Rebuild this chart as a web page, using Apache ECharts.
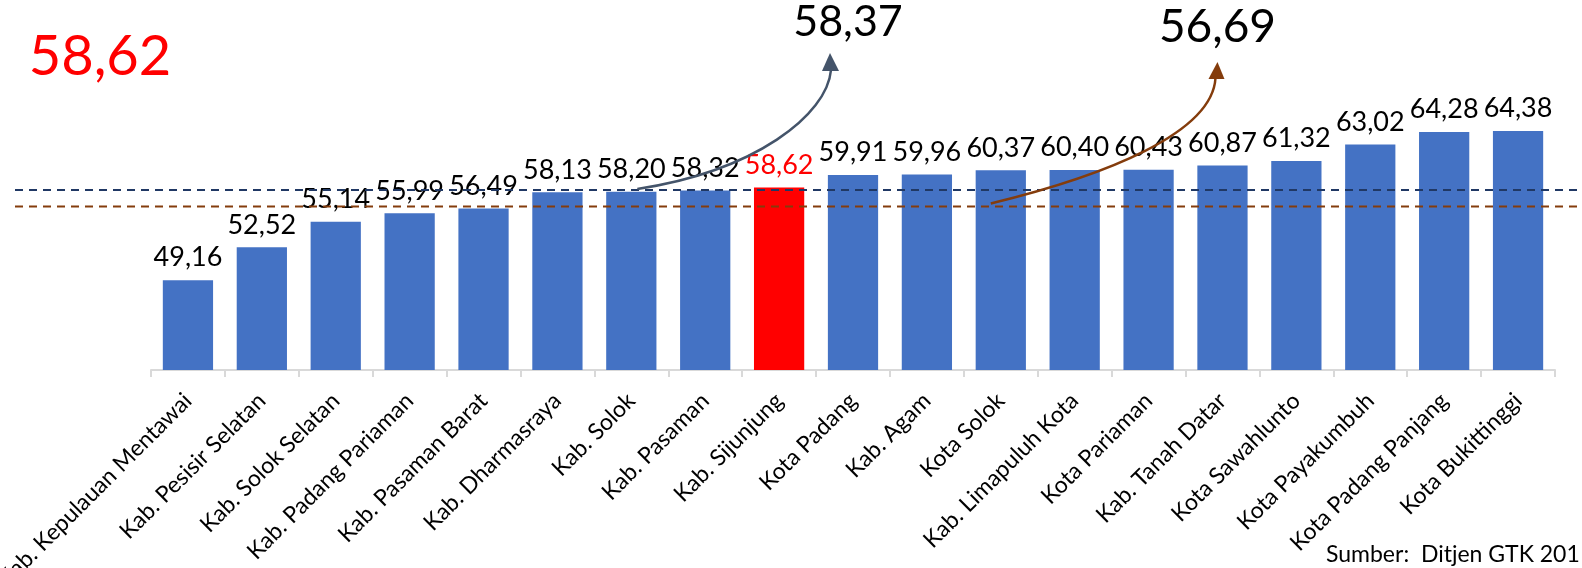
<!DOCTYPE html>
<html>
<head>
<meta charset="utf-8">
<script src="https://cdn.jsdelivr.net/npm/echarts@6/dist/echarts.min.js"></script>
<style>
html,body{margin:0;padding:0;background:#fff;}
#chart{width:1582px;height:568px;}
</style>
</head>
<body>
<div id="chart"></div>
<script>
// ---- data ----
const categories = [
  'Kab. Kepulauan Mentawai','Kab. Pesisir Selatan','Kab. Solok Selatan','Kab. Padang Pariaman',
  'Kab. Pasaman Barat','Kab. Dharmasraya','Kab. Solok','Kab. Pasaman','Kab. Sijunjung',
  'Kota Padang','Kab. Agam','Kota Solok','Kab. Limapuluh Kota','Kota Pariaman',
  'Kab. Tanah Datar','Kota Sawahlunto','Kota Payakumbuh','Kota Padang Panjang','Kota Bukittinggi'
];
const values = [49.16,52.52,55.14,55.99,56.49,58.13,58.20,58.32,58.62,59.91,59.96,60.37,60.40,60.43,60.87,61.32,63.02,64.28,64.38];
const highlightCategory = 'Kab. Sijunjung';
const highlightValue = 58.62;
const refBlueValue = 58.37;
const refBrownValue = 56.69;
const sourceText = 'Sumber:  Ditjen GTK 201';

const fmt = v => v.toFixed(2).replace('.', ',');
const FONT = 'Lato, "Open Sans", sans-serif';
const BLUE = '#4472c4', RED = '#ff0000', NAVY = '#203864', BROWN = '#843c0c', SLATE = '#44546a';

const chart = echarts.init(document.getElementById('chart'), null, {renderer:'canvas'});

const seriesData = values.map((v, i) => categories[i] === highlightCategory
  ? {value: v, itemStyle: {color: RED}, label: {color: RED}}
  : v);

chart.setOption({
  animation: false,
  backgroundColor: '#ffffff',
  grid: {left: 151, right: 27, top: 76, bottom: 198, containLabel: false, outerBoundsMode: 'none'},
  xAxis: {
    type: 'category',
    data: categories,
    axisLine: {lineStyle: {color: '#d9d9d9', width: 2}},
    axisTick: {show: true, length: 7, lineStyle: {color: '#d9d9d9', width: 2}},
    axisLabel: {interval: 0, rotate: 45, margin: 27, color: '#000', fontSize: 23, fontFamily: FONT}
  },
  yAxis: {type: 'value', min: 40, max: 70, show: false},
  series: [{
    type: 'bar',
    data: seriesData,
    barCategoryGap: '32%',
    itemStyle: {color: BLUE},
    label: {show: true, position: 'top', distance: 9, color: '#000', fontSize: 27, fontFamily: FONT,
      formatter: p => fmt(p.value)}
  }]
});

function px(catIdx, val) {
  return chart.convertToPixel({xAxisIndex: 0, yAxisIndex: 0}, [catIdx, val]);
}
const yBlue = chart.convertToPixel({yAxisIndex: 0}, refBlueValue);
const yBrown = chart.convertToPixel({yAxisIndex: 0}, refBrownValue);
const W = chart.getWidth();

// arrow anchors derived from the axis scales
const a1s = px(categories.indexOf('Kab. Solok'), refBlueValue);
const a2s = px(categories.indexOf('Kota Solok'), refBrownValue);
const t1 = px(categories.indexOf('Kota Padang'), 0); // x of first big label
const t2 = px(categories.indexOf('Kab. Tanah Datar'), 0);

const s1 = [a1s[0] + 6, a1s[1] - 1];
const e1 = [t1[0] - 22, 70];
const s2 = [a2s[0] - 10, a2s[1] - 3];
const e2 = [t2[0] - 7, 78];

chart.setOption({
  graphic: [
    {type: 'line', z: 100, shape: {x1: 15, y1: yBlue, x2: W, y2: yBlue},
      style: {stroke: NAVY, lineWidth: 2, lineDash: [8, 6]}},
    {type: 'line', z: 100, shape: {x1: 15, y1: yBrown, x2: W, y2: yBrown},
      style: {stroke: BROWN, lineWidth: 2, lineDash: [8, 6]}},
    {type: 'bezierCurve', z: 101, shape: {x1: s1[0], y1: s1[1], cpx1: s1[0] + 118, cpy1: s1[1] - 18,
        cpx2: e1[0] - 4, cpy2: e1[1] + 45, x2: e1[0], y2: e1[1]},
      style: {stroke: SLATE, lineWidth: 2.5, fill: null}},
    {type: 'polygon', z: 101, shape: {points: [[e1[0] - 1, 53], [e1[0] - 9, e1[1] + 1], [e1[0] + 8, e1[1] + 1]]},
      style: {fill: SLATE}},
    {type: 'bezierCurve', z: 101, shape: {x1: s2[0], y1: s2[1], cpx1: s2[0] + 115, cpy1: s2[1] - 28,
        cpx2: e2[0] - 3, cpy2: e2[1] + 55, x2: e2[0], y2: e2[1]},
      style: {stroke: BROWN, lineWidth: 2.5, fill: null}},
    {type: 'polygon', z: 101, shape: {points: [[e2[0] + 2, 62], [e2[0] - 7, e2[1] + 1], [e2[0] + 9, e2[1] + 1]]},
      style: {fill: BROWN}},
    {type: 'text', z: 102, x: 100, y: 57,
      style: {text: fmt(highlightValue), fill: RED, font: '56px ' + FONT, align: 'center', verticalAlign: 'middle',
        textAlign: 'center', textVerticalAlign: 'middle'}},
    {type: 'text', z: 102, x: t1[0] - 5, y: 22,
      style: {text: fmt(refBlueValue), fill: '#000', font: '43px ' + FONT, align: 'center', verticalAlign: 'middle',
        textAlign: 'center', textVerticalAlign: 'middle'}},
    {type: 'text', z: 102, x: t2[0] - 5, y: 27,
      style: {text: fmt(refBrownValue), fill: '#000', font: '46px ' + FONT, align: 'center', verticalAlign: 'middle',
        textAlign: 'center', textVerticalAlign: 'middle'}},
    {type: 'text', z: 102, x: 1326, y: 555,
      style: {text: sourceText, fill: '#000', font: '23px ' + FONT, align: 'left', verticalAlign: 'middle',
        textAlign: 'left', textVerticalAlign: 'middle'}}
  ]
});
</script>
</body>
</html>
